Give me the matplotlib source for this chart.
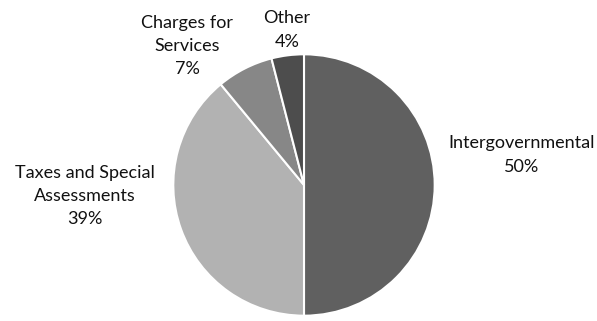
import matplotlib
matplotlib.use("Agg")
import matplotlib.pyplot as plt

categories = ["Intergovernmental", "Taxes and Special\nAssessments", "Charges for\nServices", "Other"]
shares = [50, 39, 7, 4]
colors = ["#606060", "#b2b2b2", "#878787", "#4d4d4d"]
# label centres in pixels (x, y from top)
label_pos = [(522, 155), (85, 196), (187, 46), (287, 30)]

W, H = 597, 321
fig = plt.figure(figsize=(W / 100, H / 100), dpi=100)
cx, cy, r = 304, 185, 132
ax = fig.add_axes([(cx - r) / W, (H - cy - r) / H, 2 * r / W, 2 * r / H])
ax.pie(shares, colors=colors, startangle=90, counterclock=False, radius=1,
       wedgeprops=dict(edgecolor="white", linewidth=1.5))
ax.set_xlim(-1.01, 1.01)
ax.set_ylim(-1.01, 1.01)
ax.axis("off")

for cat, val, (px, py) in zip(categories, shares, label_pos):
    fig.text(px / W, 1 - py / H, f"{cat}\n{val}%", ha="center", va="center",
             fontsize=13, family="Lato", color="#111111", linespacing=1.55)

fig.savefig("out.png", dpi=100)
